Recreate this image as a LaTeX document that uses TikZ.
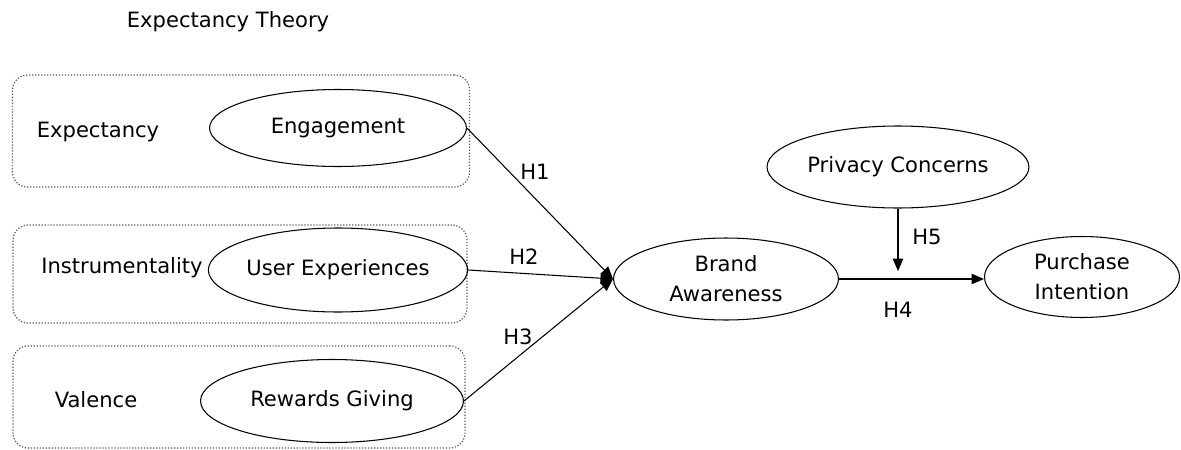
\documentclass[tikz,border=0pt]{standalone}
\usepackage{fontspec}
\setmainfont{DejaVu Sans}
\usetikzlibrary{arrows.meta, shapes.geometric, positioning, calc}

\begin{document}
\begin{tikzpicture}[
        x=0.02cm, y=-0.02cm,
        font=\fontsize{12}{17}\selectfont,
        group box/.style={
            rectangle,
            draw=black!65,
            densely dotted,
            line width=0.7pt,
            rounded corners=0.3cm
        },
        construct/.style={
            ellipse,
            draw,
            inner sep=0pt,
            align=center,
            line width=0.6pt
        },
        arrow/.style={-{Triangle[length=2.5mm,width=2.1mm]},line width=0.6pt},
        hyp/.style={inner sep=1pt}
    ]
    \useasboundingbox (0,0) rectangle (1181,450);

    % title
    \node (title) at (228,22) {Expectancy Theory};

    % dotted groups
    \node[group box, minimum width=9.14cm, minimum height=2.24cm] (G1) at (241,131) {};
    \node[group box, minimum width=9.08cm, minimum height=1.96cm] (G2) at (240,274) {};
    \node[group box, minimum width=9.04cm, minimum height=2.04cm] (G3) at (239,397) {};

    % group labels
    \node (expectancy) at (98,132) {Expectancy};
    \node (instrument) at (122,268) {Instrumentality};
    \node (valence) at (96,400) {Valence};

    % constructs
    \node[construct, minimum width=5.14cm, minimum height=1.54cm] (ENG) at (338,128) {Engagement};
    \node[construct, minimum width=5.0cm, minimum height=1.68cm] (UE) at (338,270) {User Experiences};
    \node[construct, minimum width=5.26cm, minimum height=1.66cm] (RG) at (332,401) {Rewards Giving};
    \node[construct, minimum width=4.5cm, minimum height=1.64cm] (BA) at (726,279) {Brand\\Awareness};
    \node[construct, minimum width=5.24cm, minimum height=1.64cm] (PC) at (898,167) {Privacy Concerns};
    \node[construct, minimum width=3.9cm, minimum height=1.62cm] (PI) at (1082,277) {Purchase\\Intention};

    % paths
    \draw[arrow] (ENG.east) -- (BA.west);
    \draw[arrow] (UE.east) -- (BA.west);
    \draw[arrow] (RG.east) -- (BA.west);
    \draw[arrow] (BA.east) -- (BA.east -| PI.west);

    % moderation
    \coordinate (H4mid) at (PC.south |- BA.east);
    \draw[arrow] (PC.south) -- ([yshift=4.5pt]H4mid);

    % hypotheses
    \node[hyp] (L1) at (535,172) {H1};
    \node[hyp] (L2) at (524,257) {H2};
    \node[hyp] (L3) at (518,337) {H3};
    \node[hyp] (L4) at (898,310) {H4};
    \node[hyp] (L5) at (927,237) {H5};

\end{tikzpicture}
\end{document}
